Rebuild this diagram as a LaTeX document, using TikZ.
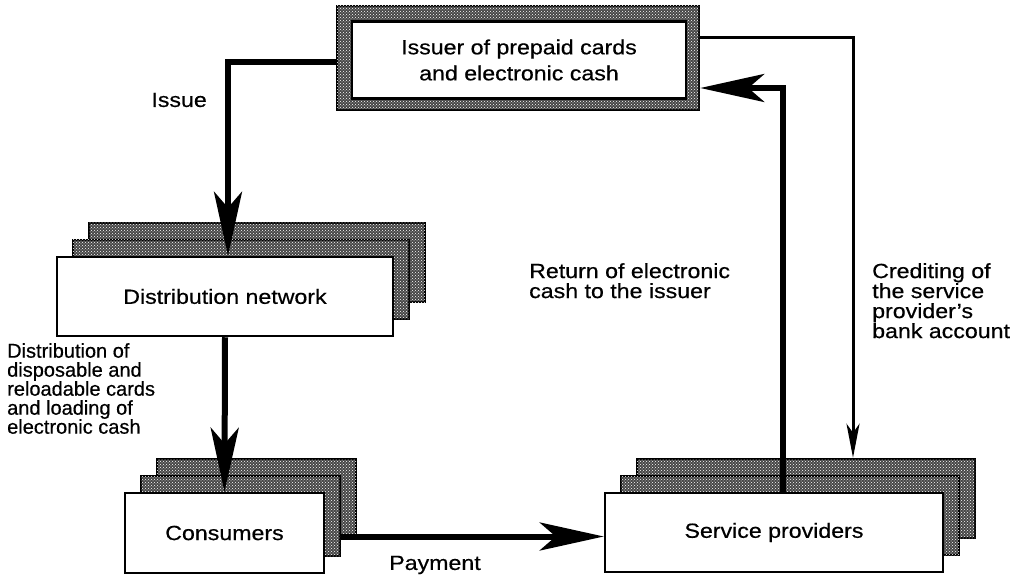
\documentclass[tikz,border=0pt]{standalone}
\usepackage{fontspec}
\setmainfont{Liberation Sans}[FakeStretch=1.13,FakeBold=0.5]
\newfontfamily\plainsans{Liberation Sans}[FakeBold=0.5]
\usetikzlibrary{arrows.meta,patterns}
\begin{document}
\begin{tikzpicture}[x=1pt,y=-1pt,
  txt/.style={font=\fontsize{20.5}{20}\selectfont, inner sep=0pt},
  box/.style={txt, draw, line width=2.5pt, fill=white, align=center},
  hatch/.style={draw, line width=2.5pt, fill=black!72, inner sep=0pt,
    postaction={pattern=crosshatch dots, pattern color=white}},
  bigarrow/.style={line width=6pt, -{Stealth[length=64pt,width=28pt,inset=16pt]}},
  thinarrow/.style={line width=3pt, -{Stealth[length=34pt,width=13pt,inset=9pt]}},
  lbl/.style={txt, align=left, anchor=north west}
]
\useasboundingbox (0,0) rectangle (1019,577);

% Issuer
\node[hatch, minimum width=362pt, minimum height=104pt] (issout) at (518,58) {};
\node[box, minimum width=334pt, minimum height=77pt, font=\fontsize{20.5}{26}\selectfont] (iss) at (519,60) {Issuer of prepaid cards\\and electronic cash};

% Distribution network
\node[hatch, minimum width=336pt, minimum height=79pt] (distback) at (257,262.5) {};
\node[hatch, minimum width=336pt, minimum height=79pt] (distmid) at (241,279.5) {};
\node[box, minimum width=336pt, minimum height=79pt] (dist) at (225,296.5) {Distribution network};

% Consumers
\node[hatch, minimum width=199pt, minimum height=80pt] (consback) at (256.5,499) {};
\node[hatch, minimum width=199pt, minimum height=80pt] (consmid) at (240.5,516) {};
\node[box, minimum width=199pt, minimum height=80pt] (cons) at (224.5,533) {Consumers};

% Service providers
\node[hatch, minimum width=338pt, minimum height=79pt] (servback) at (806,498.5) {};
\node[hatch, minimum width=338pt, minimum height=79pt] (servmid) at (790,515.5) {};
\node[box, minimum width=338pt, minimum height=79pt] (serv) at (774,532.5) {Service providers};

% Connectors
\draw[bigarrow] ([yshift=-4pt]issout.west) -| ([xshift=3pt]dist.north);
\draw[bigarrow] (dist.south) -- (cons.north);
\draw[bigarrow] ([yshift=-4pt]consmid.east |- serv.west) -- ([yshift=-4pt]serv.west);
\draw[bigarrow] ([xshift=9pt]serv.north) |- ([yshift=-30pt]issout.east);
\draw[thinarrow] ([yshift=20pt]issout.east) -| ([xshift=47pt]servback.north);

% Labels
\node[txt, anchor=east] (lissue) at (207,100) {Issue};
\node[lbl, font=\plainsans\fontsize{20}{19}\selectfont] (ldist) at (7,343) {Distribution of\\disposable and\\reloadable cards\\and loading of\\electronic cash};
\node[lbl] (lret) at (529,263) {Return of electronic\\cash to the issuer};
\node[lbl] (lcred) at (872,263) {Crediting of\\the service\\provider's\\bank account};
\node[txt] (lpay) at (435,565) {Payment};
\end{tikzpicture}
\end{document}
